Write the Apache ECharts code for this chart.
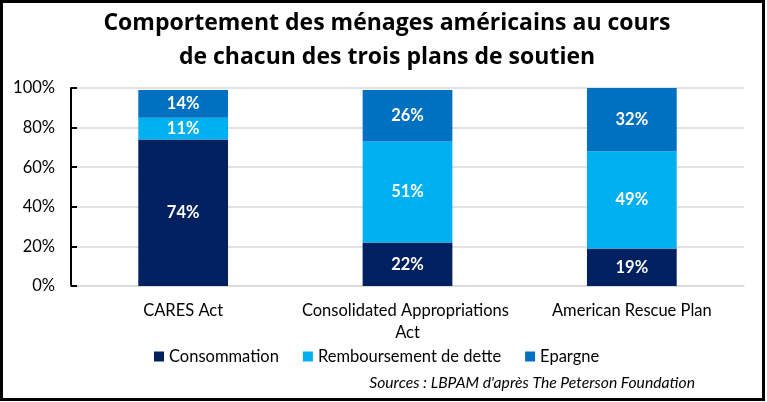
<!DOCTYPE html>
<html><head><meta charset="utf-8">
<script src="https://cdn.jsdelivr.net/npm/echarts@6/dist/echarts.min.js"></script>
<style>html,body{margin:0;padding:0;background:#fff}#c{width:767px;height:402px}</style>
</head><body><div id="c"></div>
<script>
const categories = ['CARES Act', 'Consolidated Appropriations Act', 'American Rescue Plan'];
const consommation = [74, 22, 19];
const remboursement = [11, 51, 49];
const epargne = [14, 26, 32];
const seriesNames = ['Consommation', 'Remboursement de dette', 'Epargne'];
const yTicks = [0, 20, 40, 60, 80, 100];
const titleText = 'Comportement des ménages américains au cours\nde chacun des trois plans de soutien';
const sourceText = "Sources : LBPAM d'après The Peterson Foundation";

const FONT = 'Lato';
const TFONT = 'Open Sans';
const chart = echarts.init(document.getElementById('c'));
const mk = (name, data, color) => ({
  name, type: 'bar', stack: 'total', data, barWidth: '40%',
  itemStyle: { color },
  label: { show: true, position: 'inside', color: '#fff', fontWeight: 'bold', fontSize: 16.5, fontFamily: FONT, formatter: '{c}%' }
});
chart.setOption({
  animation: false,
  textStyle: { fontFamily: FONT },
  grid: { left: 71, right: 23, top: 88, bottom: 116, containLabel: false, outerBoundsMode: 'none' },
  legend: {
    left: 154, top: 348, padding: 0, itemWidth: 10, itemHeight: 10, itemGap: 24, icon: 'rect',
    textStyle: { fontSize: 16.5, color: '#000', fontFamily: FONT },
    data: seriesNames
  },
  xAxis: {
    type: 'category', data: categories,
    axisLine: { lineStyle: { color: '#d9d9d9', width: 1.5 } },
    axisTick: { show: false },
    axisLabel: { interval: 0, color: '#000', fontSize: 16.5, fontFamily: FONT, margin: 14, width: 215, overflow: 'break', lineHeight: 22 }
  },
  yAxis: {
    type: 'value', min: yTicks[0], max: yTicks[yTicks.length - 1], interval: 20,
    axisLine: { show: true, lineStyle: { color: '#000', width: 2 } },
    axisTick: { show: true, inside: true, length: 6, lineStyle: { color: '#000', width: 2 } },
    splitLine: { lineStyle: { color: '#d9d9d9', width: 1.5 } },
    axisLabel: { color: '#000', fontSize: 16.5, fontFamily: FONT, margin: 16, formatter: '{value}%' }
  },
  series: [
    mk(seriesNames[0], consommation, '#002060'),
    mk(seriesNames[1], remboursement, '#00b0f0'),
    mk(seriesNames[2], epargne, '#0070c0')
  ],
  graphic: [
    { type: 'rect', shape: { x: 1.5, y: 1.5, width: 762, height: 398 }, style: { fill: null, stroke: '#000', lineWidth: 3 }, silent: true },
    { type: 'text', x: 387, y: 6, style: { text: titleText, fontSize: 23, fontWeight: 'bold', fontFamily: TFONT, fill: '#000', align: 'center', verticalAlign: 'top', lineHeight: 34 } },
    { type: 'text', x: 695, y: 383, style: { text: sourceText, fontSize: 15.7, fontStyle: 'italic', fontFamily: FONT, fill: '#000', align: 'right', verticalAlign: 'middle' } }
  ]
});
</script></body></html>
